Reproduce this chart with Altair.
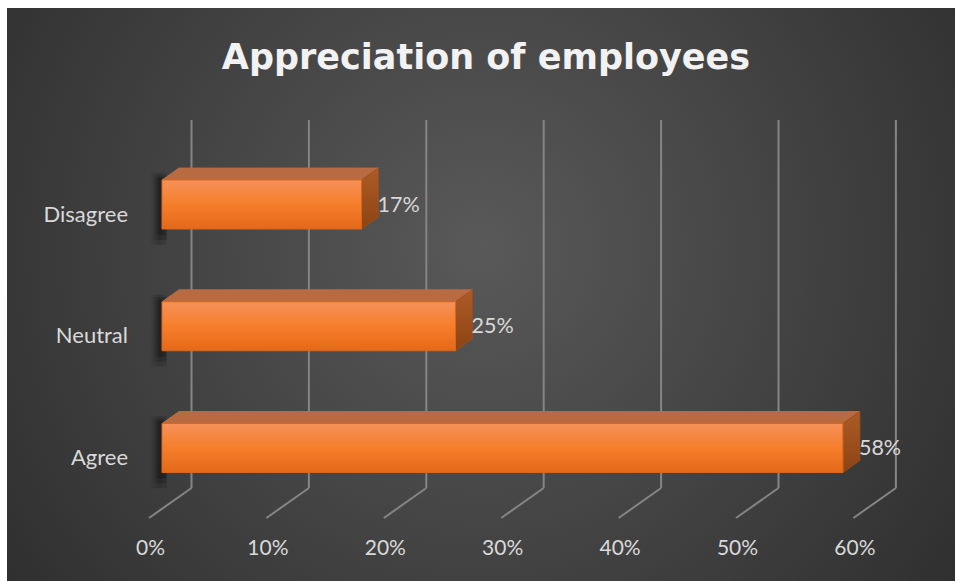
import altair as alt
import pandas as pd

# ---- data ----
categories = ["Agree", "Neutral", "Disagree"]
values = [58, 25, 17]
value_labels = ["58%", "25%", "17%"]
tick_values = [0, 10, 20, 30, 40, 50, 60]
tick_labels = ["0%", "10%", "20%", "30%", "40%", "50%", "60%"]
title_text = "Appreciation of employees"

# ---- layout constants ----
W, H = 957, 581
PX_PER_PCT = 11.74
X0_PX = 162
X_DOMAIN = [-X0_PX / PX_PER_PCT, (W - X0_PX) / PX_PER_PCT]
ROW_PX = 121.75
Y0_PX = 448
Y_DOMAIN = [(Y0_PX - H) / ROW_PX, Y0_PX / ROW_PX]
HALF = 24.5 / ROW_PX
DX = 17 / PX_PER_PCT
DY = 12 / ROW_PX

xs = alt.Scale(domain=X_DOMAIN, nice=False, zero=False)
ys = alt.Scale(domain=Y_DOMAIN, nice=False, zero=False)


def X(f):
    return alt.X(f, type="quantitative", scale=xs, axis=None)


def Y(f):
    return alt.Y(f, type="quantitative", scale=ys, axis=None)


bars = pd.DataFrame({
    "category": categories,
    "idx": list(range(len(categories))),
    "value": values,
    "label": value_labels,
})
bars["zero"] = 0.0
bars["y_lo"] = bars["idx"] - HALF
bars["y_hi"] = bars["idx"] + HALF

top_rows, side_rows = [], []
for c, i, v in zip(categories, range(len(categories)), values):
    t = i + HALF
    top_rows += [
        {"category": c, "x": 0.0, "y": t, "y2": t},
        {"category": c, "x": DX, "y": t, "y2": t + DY},
        {"category": c, "x": float(v), "y": t, "y2": t + DY},
        {"category": c, "x": v + DX, "y": t + DY, "y2": t + DY},
    ]
    side_rows += [
        {"category": c, "x": float(v), "y": i - HALF, "y2": i + HALF},
        {"category": c, "x": v + DX, "y": i - HALF + DY, "y2": i + HALF + DY},
    ]
top_df = pd.DataFrame(top_rows)
side_df = pd.DataFrame(side_rows)

ticks = pd.DataFrame({"tick": tick_values, "label": tick_labels})
one = pd.DataFrame({"a": [0]})

FONT = "Lato"
LABEL_COLOR = "#d9d9d9"

# ---- background ----
bg = alt.Chart(one).mark_rect(
    fill=alt.RadialGradient(
        gradient="radial",
        stops=[alt.GradientStop(offset=0, color="#595959"),
               alt.GradientStop(offset=1, color="#262626")],
        x1=0.5, y1=0.45, r1=0.0, x2=0.5, y2=0.45, r2=0.75,
    )
).encode(x=alt.value(7), x2=alt.value(955), y=alt.value(8), y2=alt.value(581))

# ---- grid (3D wall + floor) ----
grid_v = alt.Chart(ticks).mark_rule(color="#858585", strokeWidth=2, xOffset=29.5, x2Offset=29.5).encode(
    x=X("tick"), y=alt.value(120), y2=alt.value(488)
)
grid_d = alt.Chart(ticks).mark_rule(color="#858585", strokeWidth=2, xOffset=29.5, x2Offset=-13).encode(
    x=X("tick"), x2="tick:Q", y=alt.value(488), y2=alt.value(518)
)

# ---- soft bar shadows (stacked translucent layers) ----
def shadow_layer(x0, x1, below, above, alpha):
    d = bars.copy()
    d["sx0"] = x0
    d["sx1"] = x1
    d["slo"] = d["idx"] - HALF - below
    d["shi"] = d["idx"] + HALF + above
    return alt.Chart(d).mark_rect(
        fill=alt.LinearGradient(
            gradient="linear",
            stops=[alt.GradientStop(offset=0, color="rgba(0,0,0,0)"),
                   alt.GradientStop(offset=0.55, color=f"rgba(0,0,0,{alpha})"),
                   alt.GradientStop(offset=1, color=f"rgba(0,0,0,{alpha * 0.6})")],
            x1=0, y1=0, x2=1, y2=0,
        )
    ).encode(x=X("sx0"), x2="sx1:Q", y=Y("slo"), y2="shi:Q")


shadows = [
    shadow_layer(-1.1, 0.4, 0.13, 0.06, 0.18),
    shadow_layer(-0.9, 0.4, 0.09, 0.04, 0.22),
    shadow_layer(-0.7, 0.4, 0.05, 0.02, 0.25),
]

# ---- bar faces ----
top_face = alt.Chart(top_df).mark_area(
    orient="vertical", color="#b86a41", stroke="#c0703f", strokeWidth=0.8
).encode(x=X("x"), y=Y("y"), y2="y2:Q", detail="category:N")

side_face = alt.Chart(side_df).mark_area(
    orient="vertical",
    fill=alt.LinearGradient(
        gradient="linear",
        stops=[alt.GradientStop(offset=0, color="#ad5b27"),
               alt.GradientStop(offset=1, color="#8c4413")],
        x1=0, y1=0, x2=0, y2=1,
    ),
    stroke="#9a4d1a", strokeWidth=0.8,
).encode(x=X("x"), y=Y("y"), y2="y2:Q", detail="category:N")

front = alt.Chart(bars).mark_rect(
    fill=alt.LinearGradient(
        gradient="linear",
        stops=[alt.GradientStop(offset=0, color="#f6915a"),
               alt.GradientStop(offset=0.5, color="#f57e2a"),
               alt.GradientStop(offset=1, color="#e4691a")],
        x1=0, y1=0, x2=0, y2=1,
    ),
    stroke="#d8661d", strokeWidth=1,
).encode(x=X("zero"), x2="value:Q", y=Y("y_lo"), y2="y_hi:Q")

# ---- texts ----
value_text = alt.Chart(bars).mark_text(
    align="left", baseline="middle", dx=16, dy=1, font=FONT, fontSize=21.5, color=LABEL_COLOR
).encode(x=X("value"), y=Y("idx"), text="label:N")

cat_text = alt.Chart(bars).mark_text(
    align="right", baseline="middle", dy=10, font=FONT, fontSize=22, color=LABEL_COLOR
).encode(x=alt.value(128), y=Y("idx"), text="category:N")

tick_text = alt.Chart(ticks).mark_text(
    align="center", baseline="middle", dx=-11.5, font=FONT, fontSize=21, color=LABEL_COLOR
).encode(x=X("tick"), y=alt.value(549), text="label:N")

title_df = pd.DataFrame({"t": [title_text]})
title = alt.Chart(title_df).mark_text(
    align="center", baseline="middle", font="DejaVu Sans", fontWeight="bold",
    fontSize=35, color="#f2f2f2",
).encode(x=alt.value(486), y=alt.value(58), text="t:N")

chart = alt.layer(
    bg, grid_v, grid_d, *shadows, top_face, side_face, front,
    value_text, cat_text, tick_text, title,
).properties(
    width=W, height=H, background="white", padding=0, autosize="none"
).configure_view(strokeWidth=0)

chart.save("out.html", embed_options={"renderer": "svg", "actions": False})
